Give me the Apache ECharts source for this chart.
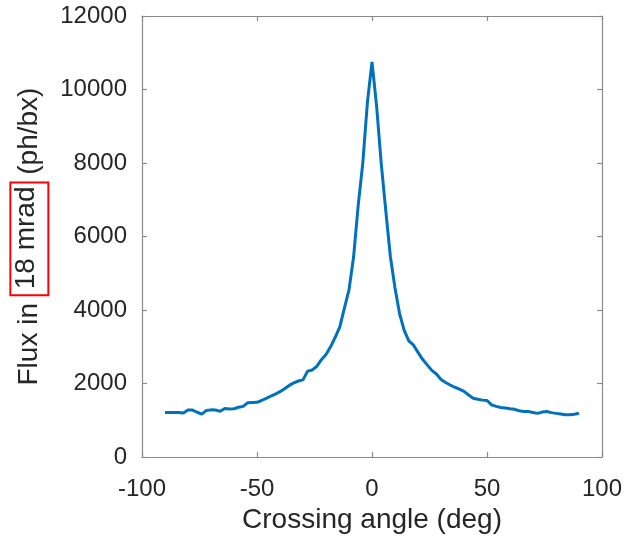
<!DOCTYPE html>
<html>
<head>
<meta charset="utf-8">
<script src="https://cdn.jsdelivr.net/npm/echarts@6/dist/echarts.min.js"></script>
<style>
  html, body { margin: 0; padding: 0; background: #ffffff; }
  #chart { width: 628px; height: 539px; }
</style>
</head>
<body>
<div id="chart"></div>
<script>
// Crossing angle (deg)
const angles = [
  -90, -88, -86, -84, -82, -80, -78, -76, -74, -72,
  -70, -68, -66, -64, -62, -60, -58, -56, -54, -52,
  -50, -48, -46, -44, -42, -40, -38, -36, -34, -32,
  -30, -28, -26, -24, -22, -20, -18, -16, -14, -12,
  -10, -8, -6, -4, -2, 0, 2, 4, 6, 8,
  10, 12, 14, 16, 18, 20, 22, 24, 26, 28,
  30, 32, 34, 36, 38, 40, 42, 44, 46, 48,
  50, 52, 54, 56, 58, 60, 62, 64, 66, 68,
  70, 72, 74, 76, 78, 80, 82, 84, 86, 88,
  90
];

// Flux in 18 mrad (ph/bx)
const flux = [
  1210, 1215, 1215, 1215, 1200, 1280, 1280, 1220, 1170, 1270,
  1285, 1280, 1245, 1320, 1310, 1315, 1355, 1380, 1480, 1485,
  1490, 1540, 1600, 1660, 1715, 1780, 1860, 1950, 2020, 2070,
  2100, 2340, 2370, 2470, 2650, 2790, 3000, 3260, 3540, 4050,
  4550, 5450, 6850, 8000, 9650, 10750, 9550, 8000, 6700, 5450,
  4600, 3900, 3450, 3160, 3050, 2850, 2660, 2510, 2360, 2260,
  2110, 2030, 1960, 1900, 1850, 1790, 1690, 1600, 1575, 1550,
  1540, 1420, 1380, 1350, 1335, 1315, 1300, 1260, 1240, 1240,
  1215, 1190, 1225, 1240, 1210, 1190, 1170, 1150, 1150, 1165,
  1195
];

const xTicks = { min: -100, max: 100, interval: 50 };
const yTicks = { min: 0, max: 12000, interval: 2000 };

const FONT = "'Liberation Sans', Arial, Helvetica, sans-serif";
const AXIS_COLOR = '#8a8a8a';
const TEXT_COLOR = '#262626';

const chart = echarts.init(document.getElementById('chart'), null, { renderer: 'canvas' });

// Box-style frame: plain axis lines on all four sides, ticks pointing inward
const axisLine = { show: true, onZero: false, lineStyle: { color: AXIS_COLOR, width: 1.2 } };
const axisTick = { show: true, inside: true, length: 5, lineStyle: { color: AXIS_COLOR, width: 1.2 } };
const plainNumber = v => String(v);

chart.setOption({
  animation: false,
  backgroundColor: '#ffffff',
  textStyle: { fontFamily: FONT },
  grid: { left: 142, right: 26, top: 16, bottom: 81, containLabel: false },
  xAxis: [
    {
      type: 'value', position: 'bottom',
      min: xTicks.min, max: xTicks.max, interval: xTicks.interval,
      axisLine, axisTick, splitLine: { show: false },
      axisLabel: { fontSize: 24, color: TEXT_COLOR, margin: 20, fontFamily: FONT, formatter: plainNumber },
      name: 'Crossing angle (deg)', nameLocation: 'middle', nameGap: 47,
      nameTextStyle: { fontSize: 28, color: TEXT_COLOR, fontFamily: FONT }
    },
    {
      type: 'value', position: 'top',
      min: xTicks.min, max: xTicks.max, interval: xTicks.interval,
      axisLine, axisTick, splitLine: { show: false },
      axisLabel: { show: false }
    }
  ],
  yAxis: [
    {
      type: 'value', position: 'left',
      min: yTicks.min, max: yTicks.max, interval: yTicks.interval,
      axisLine, axisTick, splitLine: { show: false },
      axisLabel: { fontSize: 24, color: TEXT_COLOR, margin: 15, fontFamily: FONT, formatter: plainNumber },
      name: 'Flux in {box|18 mrad} (ph/bx)', nameLocation: 'middle', nameGap: 88,
      nameTextStyle: {
        fontSize: 28, color: TEXT_COLOR, fontFamily: FONT,
        rich: {
          box: {
            fontSize: 28, color: TEXT_COLOR, fontFamily: FONT,
            borderColor: '#ff0000', borderWidth: 2,
            padding: [2, 4, 8, 6]
          }
        }
      }
    },
    {
      type: 'value', position: 'right',
      min: yTicks.min, max: yTicks.max, interval: yTicks.interval,
      axisLine, axisTick, splitLine: { show: false },
      axisLabel: { show: false }
    }
  ],
  series: [
    {
      type: 'line',
      xAxisIndex: 0, yAxisIndex: 0,
      data: angles.map((a, i) => [a, flux[i]]),
      showSymbol: false,
      lineStyle: { color: '#0072bd', width: 3 },
      itemStyle: { color: '#0072bd' }
    }
  ]
});
</script>
</body>
</html>
